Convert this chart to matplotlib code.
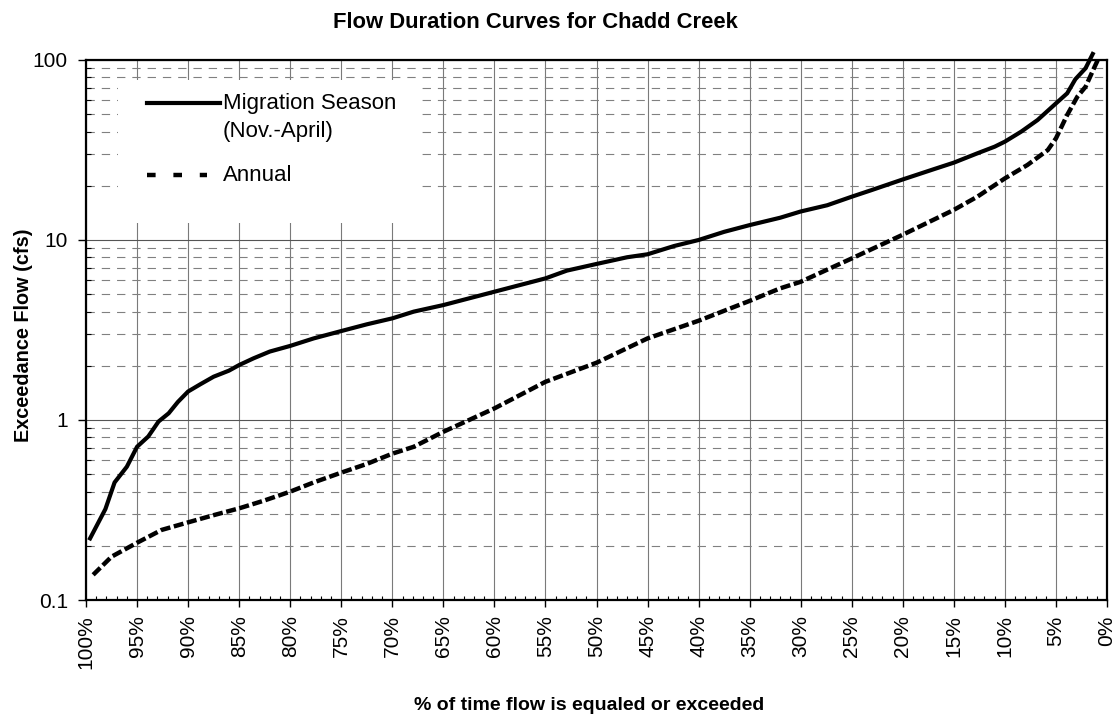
import matplotlib
matplotlib.use("Agg")
import matplotlib.pyplot as plt
from matplotlib.ticker import FixedLocator, FuncFormatter, NullFormatter
from matplotlib.lines import Line2D
from matplotlib.patches import Rectangle

plt.rcParams['font.family'] = ['Liberation Sans', 'DejaVu Sans']
plt.rcParams['lines.scale_dashes'] = False

# Exceedance percentages and flows (cfs)
pct_migration = [99.6, 98.1, 97.2, 96.0, 95.0, 93.9, 92.9, 91.9, 91.0, 90.0,
                 88.8, 87.5, 86.0, 85.0, 83.6, 82.0, 80.0, 77.7, 75.0, 72.5,
                 70.0, 67.9, 65.0, 60.0, 57.5, 55.0, 52.9, 50.0, 47.0, 45.0,
                 42.4, 40.0, 37.5, 35.0, 32.0, 30.0, 27.4, 25.0, 23.1, 20.0,
                 17.0, 15.0, 12.7, 11.0, 10.0, 8.4, 6.8, 5.0, 3.9, 3.1, 2.1, 1.4]
flow_migration = [0.22, 0.32, 0.45, 0.55, 0.71, 0.81, 0.98, 1.09, 1.26, 1.44,
                  1.58, 1.74, 1.88, 2.02, 2.20, 2.40, 2.58, 2.84, 3.12, 3.40,
                  3.67, 4.00, 4.35, 5.16, 5.62, 6.12, 6.76, 7.36, 8.02, 8.33,
                  9.26, 10.0, 11.1, 12.1, 13.3, 14.4, 15.6, 17.4, 18.9, 21.7,
                  24.7, 26.9, 30.3, 33.0, 35.2, 40.0, 46.4, 57.4, 65.3, 78.2, 90.0, 108.0]

pct_annual = [99.3, 97.5, 95.0, 92.6, 90.0, 87.5, 85.0, 82.6, 80.0, 77.7,
              75.0, 72.5, 70.0, 67.9, 65.0, 60.0, 55.0, 50.0, 45.0, 40.0,
              35.0, 32.0, 30.0, 25.0, 20.0, 15.0, 12.7, 10.0, 7.8, 5.8,
              5.0, 3.9, 2.9, 2.1, 1.2, 0.9]
flow_annual = [0.138, 0.174, 0.208, 0.245, 0.270, 0.296, 0.323, 0.356, 0.40, 0.45,
               0.51, 0.57, 0.65, 0.71, 0.86, 1.16, 1.63, 2.08, 2.84, 3.56,
               4.59, 5.39, 5.86, 7.90, 10.7, 14.7, 17.4, 22.0, 26.1, 31.6,
               36.7, 49.5, 62.6, 71.0, 92.0, 100.0]

x_major = list(range(0, 101, 5))
x_minor = list(range(0, 101, 1))
y_major = [0.1, 1, 10, 100]
y_minor = [m * d for d in (0.1, 1, 10) for m in range(2, 10)]

title = "Flow Duration Curves for Chadd Creek"
xlabel = "% of time flow is equaled or exceeded"
ylabel = "Exceedance Flow (cfs)"
label_migration = "Migration Season"
label_migration2 = "(Nov.-April)"
label_annual = "Annual"

W, H = 1119, 719
fig = plt.figure(figsize=(W / 100, H / 100), dpi=100)
ax_l, ax_r, ax_t, ax_b = 86, 1107, 60, 600
ax = fig.add_axes([ax_l / W, 1 - ax_b / H, (ax_r - ax_l) / W, (ax_b - ax_t) / H])

ax.set_yscale('log')
ax.set_ylim(0.1, 100)
ax.set_xlim(100, 0)
ax.set_axisbelow(True)

# grid
for v in x_major:
    ax.axvline(v, color='#7a7a7a', lw=0.8, zorder=0.5)
for v in y_major:
    ax.axhline(v, color='#555555', lw=0.8, zorder=0.5)
for v in y_minor:
    ax.axhline(v, color='#808080', lw=0.8, dashes=(6.0, 5.0), zorder=0.5)

# curves
ax.plot(pct_migration, flow_migration, color='black', lw=3.0, zorder=3,
        solid_joinstyle='round', clip_on=False)
ax.plot(pct_annual, flow_annual, color='black', lw=3.2, dashes=(7.2, 2.6),
        zorder=3, clip_on=False)

# ticks
ax.xaxis.set_major_locator(FixedLocator(x_major))
ax.xaxis.set_minor_locator(FixedLocator(x_minor))
ax.xaxis.set_major_formatter(FuncFormatter(lambda v, p: f"{int(round(v))}%"))
ax.xaxis.set_minor_formatter(NullFormatter())
ax.yaxis.set_major_locator(FixedLocator(y_major))
ax.yaxis.set_minor_locator(FixedLocator(y_minor))
ax.yaxis.set_major_formatter(FuncFormatter(lambda v, p: f"{v:g}"))
ax.yaxis.set_minor_formatter(NullFormatter())

ax.tick_params(axis='x', which='major', direction='out', length=5, width=1.0,
               labelsize=15, pad=6, labelrotation=90)
ax.tick_params(axis='x', which='minor', direction='in', length=3, width=0.8)
ax.tick_params(axis='y', which='major', direction='out', length=6, width=1.0,
               labelsize=15, pad=7)
ax.tick_params(axis='y', which='minor', direction='in', length=3.5, width=0.8)

for s in ax.spines.values():
    s.set_linewidth(1.6)
    s.set_color('black')
    s.set_zorder(4)

# legend block
ax.add_patch(Rectangle((0.0313, 0.698), 0.296, 0.265, transform=ax.transAxes,
                       facecolor='white', edgecolor='none', zorder=1))
ax.add_line(Line2D([0.0597, 0.131], [0.921, 0.921], transform=ax.transAxes,
                   color='black', lw=3.0, zorder=3))
ax.add_line(Line2D([0.0597, 0.1185], [0.787, 0.787], transform=ax.transAxes,
                   color='black', lw=3.2, dashes=(6.2, 12.8), zorder=3))
tkw = dict(transform=ax.transAxes, fontsize=16, va='center', ha='left', zorder=3)
ax.text(0.134, 0.920, label_migration, **tkw)
ax.text(0.134, 0.867, label_migration2, **tkw)
ax.text(0.134, 0.787, label_annual, **tkw)

fig.text(535 / W, 1 - 23 / H, title, ha='center', va='center', fontsize=15.8,
         fontweight='bold')
fig.text(589 / W, 1 - 705 / H, xlabel, ha='center', va='center', fontsize=14,
         fontweight='bold')
fig.text(24 / W, 1 - 335 / H, ylabel, ha='center', va='center', fontsize=14.3,
         fontweight='bold', rotation=90)

fig.savefig("out.png", dpi=100, facecolor='white')
